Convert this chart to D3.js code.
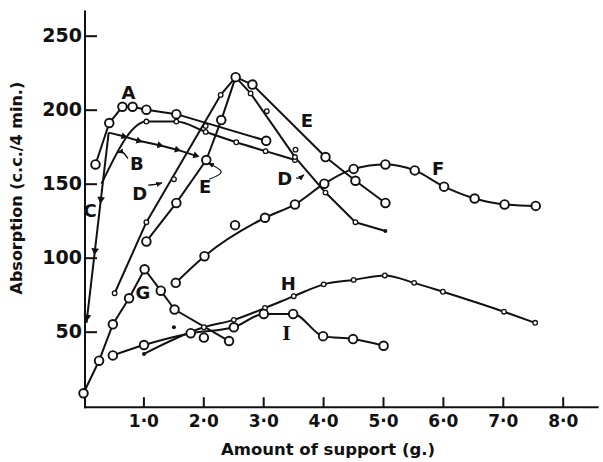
<!DOCTYPE html>
<html>
<head>
<meta charset="utf-8">
<script src="https://cdn.jsdelivr.net/npm/d3@7"></script>
<style>
body { margin: 0; background: #fff; }
text { font-family: "DejaVu Sans", sans-serif; font-weight: bold; fill: #111; }
</style>
</head>
<body>
<div class="chart"></div>
<script>
// values (x = g of support, y = c.c. / 4 min)
const xTicks = [1, 2, 3, 4, 5, 6, 7, 8]
const xTickLabels = ["1·0", "2·0", "3·0", "4·0", "5·0", "6·0", "7·0", "8·0"]
const yTicks = [50, 100, 150, 200, 250]

const seriesA = [[0.2,163],[0.43,191],[0.65,202],[0.82,202],[1.05,200],[1.55,197],[3.05,179]]
const seriesB = [[0.3,150],[1.05,192],[1.55,192],[2.04,185],[2.55,178],[3.04,172],[3.53,166]]
const seriesCup = [[0.05,56],[0.42,184.5]]
const seriesCdown = [[0.42,184.5],[0.67,182],[0.92,179],[1.27,176],[1.56,173],[1.87,169]]
const seriesD = [[0.52,76],[1.05,124],[2.29,210],[2.54,222],[2.79,211],[3.53,168],[4.04,144],[4.54,124],[5.04,118]]
const seriesE = [[1.05,111],[1.55,137],[2.05,166],[2.3,193],[2.54,222],[2.82,217],[4.04,168],[4.54,152],[5.04,137]]
const seriesF = [[1.54,83],[2.02,101],[3.03,127],[3.53,136],[4.02,150],[4.51,160],[5.04,163],[5.53,159],[6.02,148],[6.53,140],[7.03,136],[7.55,135]]
const seriesG = [[0,8.4],[0.26,30.4],[0.49,55],[0.76,72.6],[1.02,92.2],[1.29,77.7],[1.52,65],[2.43,43.7]]
const seriesH = [[1.01,35],[2.01,53],[2.51,58],[3.03,66],[3.51,74],[4.01,82],[4.51,85],[5.03,88],[5.52,83],[6.0,77],[7.02,63.5],[7.54,56]]
const seriesI = [[0.49,34],[1.01,41],[1.79,49],[2.51,53],[3.01,62],[3.5,62],[4.0,47],[4.5,45],[5.01,40.5]]
// loose readings not on a drawn line
const looseBig = [[2.01,46],[2.53,122]]
const looseSmall = [[1.51,153],[3.06,199],[2.04,189],[3.54,173]]
const looseDot = [[1.51,53]]

const labels = [
  {t:"A", x:0.75, y:211.5}, {t:"B", x:0.89, y:163.8}, {t:"C", x:0.11, y:132},
  {t:"D", x:0.94, y:143.5}, {t:"E", x:2.03, y:147.8}, {t:"D", x:3.36, y:153.6},
  {t:"E", x:3.73, y:193}, {t:"F", x:5.92, y:160.4}, {t:"G", x:0.99, y:76.8},
  {t:"H", x:3.42, y:82.7}, {t:"I", x:3.39, y:49, serif:true}
]

const width = 603, height = 462

const svg = d3.select(".chart").append("svg")
  .attr("width", width)
  .attr("height", height)

const x = d3.scaleLinear().domain([0, 8]).range([83.5, 562.7])
const y = d3.scaleLinear().domain([0, 250]).range([405.7, 35.7])

svg.append("defs").append("marker")
  .attr("id", "ah").attr("viewBox", "0 0 10 10")
  .attr("refX", 9).attr("refY", 5)
  .attr("markerWidth", 5).attr("markerHeight", 5)
  .attr("orient", "auto")
  .append("path").attr("d", "M0,1 L10,5 L0,9 Z").attr("fill", "#111")

// axes
const yAxis = d3.axisLeft(y).tickValues(yTicks).tickSize(-12).tickPadding(3).tickSizeOuter(0)
const gy = svg.append("g").attr("transform", `translate(${x(0) + 1.5},0)`).call(yAxis)
const xAxis = d3.axisBottom(x).tickValues(xTicks).tickSize(-10).tickPadding(8).tickSizeOuter(0)
  .tickFormat((d, i) => xTickLabels[i])
const gx = svg.append("g").attr("transform", `translate(0,${y(0) + 1.5})`).call(xAxis)
svg.selectAll(".domain").remove()
svg.selectAll(".tick line").attr("stroke", "#111").attr("stroke-width", 2)
gy.selectAll("text").style("font-size", "19px").attr("fill", "#111")
gx.selectAll("text").style("font-size", "17px").attr("fill", "#111")

svg.append("line")
  .attr("x1", x(0) + 1.5).attr("x2", x(0) + 1.5)
  .attr("y1", y(0) + 2.5).attr("y2", y(267))
  .attr("stroke", "#111").attr("stroke-width", 2)
svg.append("line")
  .attr("x1", x(0) + 0.5).attr("x2", x(8.6))
  .attr("y1", y(0) + 1.5).attr("y2", y(0) + 1.5)
  .attr("stroke", "#111").attr("stroke-width", 2)

svg.append("text")
  .attr("transform", `translate(22,${y(147)}) rotate(-90)`)
  .attr("text-anchor", "middle")
  .style("font-size", "16px")
  .text("Absorption (c.c./4 min.)")

svg.append("text")
  .attr("x", 328).attr("y", 455)
  .attr("text-anchor", "middle")
  .style("font-size", "16.5px")
  .text("Amount of support (g.)")

// lines
const straight = d3.line().x(d => x(d[0])).y(d => y(d[1]))
const smooth = d3.line().x(d => x(d[0])).y(d => y(d[1])).curve(d3.curveMonotoneX)

const lineDefs = [
  [seriesA, straight], [seriesB, smooth], [seriesCup, straight], [seriesCdown, straight],
  [seriesD, straight], [seriesE, straight], [seriesF, smooth], [seriesG, straight],
  [seriesH, smooth], [seriesI, smooth]
]
svg.append("g").selectAll("path").data(lineDefs).enter().append("path")
  .attr("d", d => d[1](d[0]))
  .attr("fill", "none").attr("stroke", "#111")
  .attr("stroke-width", 2).attr("stroke-linejoin", "round")

// arrowheads along the C line (pointing away from the peak)
const cA = seriesCup[1], cB = seriesCup[0]
const cAng = Math.atan2(y(cB[1]) - y(cA[1]), x(cB[0]) - x(cA[0])) * 180 / Math.PI
svg.append("g").selectAll("path").data([0.35, 0.62, 0.97]).enter().append("path")
  .attr("d", d3.symbol(d3.symbolTriangle, 26))
  .attr("transform", t => {
    const px = x(cA[0]) + t * (x(cB[0]) - x(cA[0]))
    const py = y(cA[1]) + t * (y(cB[1]) - y(cA[1]))
    return `translate(${px},${py}) rotate(${cAng + 90})`
  })
  .attr("fill", "#111")

// triangles on the falling part of C
svg.append("g").selectAll("path").data(seriesCdown.slice(1)).enter().append("path")
  .attr("d", d3.symbol(d3.symbolTriangle, 22))
  .attr("transform", (d, i) => {
    const p = seriesCdown[i]
    const a = Math.atan2(y(d[1]) - y(p[1]), x(d[0]) - x(p[0])) * 180 / Math.PI
    return `translate(${x(d[0])},${y(d[1])}) rotate(${a + 90})`
  })
  .attr("fill", "#111")

function bigCircles(data) {
  svg.append("g").selectAll("circle").data(data).enter().append("circle")
    .attr("cx", d => x(d[0])).attr("cy", d => y(d[1]))
    .attr("r", 4.3).attr("fill", "#fff").attr("stroke", "#111").attr("stroke-width", 1.9)
}
function smallCircles(data) {
  svg.append("g").selectAll("circle").data(data).enter().append("circle")
    .attr("cx", d => x(d[0])).attr("cy", d => y(d[1]))
    .attr("r", 2.3).attr("fill", "#fff").attr("stroke", "#111").attr("stroke-width", 1.3)
}
function dots(data) {
  svg.append("g").selectAll("circle").data(data).enter().append("circle")
    .attr("cx", d => x(d[0])).attr("cy", d => y(d[1]))
    .attr("r", 2).attr("fill", "#111")
}

smallCircles(seriesB.slice(1))
smallCircles(seriesD.slice(0, -1))
dots(seriesD.slice(-1))
smallCircles(seriesH.slice(1))
dots(seriesH.slice(0, 1))
smallCircles(looseSmall)
dots(looseDot)
bigCircles(seriesA)
bigCircles(seriesE)
bigCircles(seriesF)
bigCircles(seriesG)
bigCircles(seriesI)
bigCircles(looseBig)

// labels
svg.append("g").selectAll("text").data(labels).enter().append("text")
  .attr("x", d => x(d.x)).attr("y", d => y(d.y))
  .attr("text-anchor", "middle").attr("dominant-baseline", "central")
  .style("font-size", "18px")
  .style("font-family", d => d.serif ? "'DejaVu Serif', serif" : null)
  .text(d => d.t)

// label pointers
const pointers = [
  [[0.74,167],[0.66,171],[0.57,171]],
  [[1.08,149],[1.2,149.5],[1.31,150.5]],
  [[3.55,154],[3.61,154],[3.68,156]],
  [[2.1,153],[2.3,158],[2.08,164]]
]
const curved = d3.line().x(d => x(d[0])).y(d => y(d[1])).curve(d3.curveNatural)
svg.append("g").selectAll("path").data(pointers).enter().append("path")
  .attr("d", curved)
  .attr("fill", "none").attr("stroke", "#111").attr("stroke-width", 1.3)
  .attr("marker-end", "url(#ah)")
</script>
</body>
</html>
